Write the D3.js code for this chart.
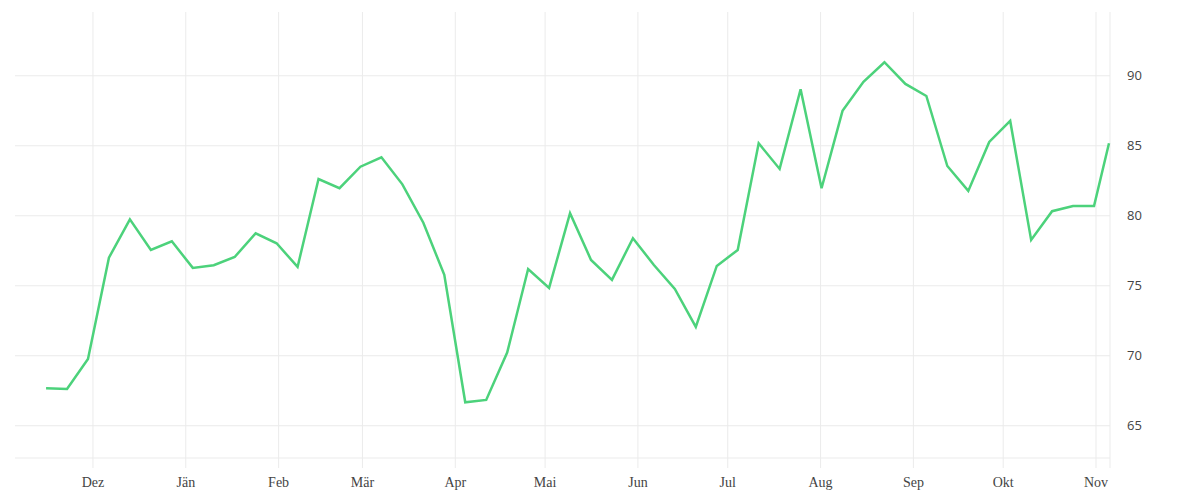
<!DOCTYPE html>
<html>
<head>
<meta charset="utf-8">
<script src="https://cdn.jsdelivr.net/npm/d3@7"></script>
<style>
  body { margin: 0; background: #fff; }
  svg { display: block; }
</style>
</head>
<body>
<div id="chart"></div>
<script>
// wöchentliche Werte, Nov 2021 - Nov 2022
const dates = [
  "2021-11-15", "2021-11-22", "2021-11-29", "2021-12-06", "2021-12-13", "2021-12-20", "2021-12-27",
  "2022-01-03", "2022-01-10", "2022-01-17", "2022-01-24", "2022-01-31",
  "2022-02-07", "2022-02-14", "2022-02-21", "2022-02-28",
  "2022-03-07", "2022-03-14", "2022-03-21", "2022-03-28",
  "2022-04-04", "2022-04-11", "2022-04-18", "2022-04-25",
  "2022-05-02", "2022-05-09", "2022-05-16", "2022-05-23", "2022-05-30",
  "2022-06-06", "2022-06-13", "2022-06-20", "2022-06-27",
  "2022-07-04", "2022-07-11", "2022-07-18", "2022-07-25",
  "2022-08-01", "2022-08-08", "2022-08-15", "2022-08-22", "2022-08-29",
  "2022-09-05", "2022-09-12", "2022-09-19", "2022-09-26",
  "2022-10-03", "2022-10-10", "2022-10-17", "2022-10-24", "2022-10-31",
  "2022-11-05"
];

const values = [
  67.64, 67.59, 69.74, 76.97, 79.71, 77.52, 78.14,
  76.24, 76.43, 77.02, 78.71, 78.0,
  76.31, 82.59, 81.93, 83.47,
  84.14, 82.21, 79.47, 75.74,
  66.64, 66.81, 70.19, 76.16,
  74.81, 80.15, 76.81, 75.38, 78.36,
  76.45, 74.74, 72.02, 76.38,
  77.52, 85.14, 83.31, 89.0,
  81.93, 87.46, 89.54, 90.93, 89.38,
  88.52, 83.52, 81.74, 85.24,
  86.74, 78.24, 80.29, 80.66, 80.66,
  85.14
];

const yTicks = [65, 70, 75, 80, 85, 90];
const monthNames = ["Jän", "Feb", "Mär", "Apr", "Mai", "Jun", "Jul", "Aug", "Sep", "Okt", "Nov", "Dez"];

const width = 1200, height = 500;
const plotLeft = 15, plotRight = 1110, plotTop = 12, plotBottom = 458;

const parse = d3.timeParse("%Y-%m-%dT%H:%M");
const data = dates.map((d, i) => ({ date: parse(d + "T12:00"), value: values[i] }));

const x = d3.scaleTime()
    .domain([parse("2021-11-05T03:00"), parse("2022-11-05T20:00")])
    .range([plotLeft, plotRight]);

const y = d3.scaleLinear()
    .domain([62.66, 94.52])
    .range([plotBottom, plotTop]);

const svg = d3.select("#chart")
    .append("svg")
    .attr("width", width)
    .attr("height", height);

const gridColor = "#ebebeb";

// horizontale Gitterlinien
svg.append("g")
    .attr("transform", `translate(${plotLeft},0)`)
    .call(d3.axisLeft(y).tickValues(yTicks).tickSize(-(plotRight - plotLeft)).tickFormat(""))
    .call(g => g.select(".domain").remove())
    .call(g => g.selectAll(".tick line").attr("stroke", gridColor));

// untere Linie
svg.append("line")
    .attr("x1", plotLeft).attr("x2", plotRight)
    .attr("y1", plotBottom).attr("y2", plotBottom)
    .attr("stroke", gridColor);

// Monate
const months = d3.timeMonth.range(parse("2021-12-01T00:00"), parse("2022-11-02T00:00"));

const xAxis = svg.append("g")
    .attr("transform", `translate(0,${plotBottom + 10})`)
    .call(d3.axisBottom(x)
        .tickValues(months)
        .tickSize(-(plotBottom + 10 - plotTop))
        .tickPadding(9)
        .tickFormat(d => monthNames[d.getMonth()]));

xAxis.select(".domain").remove();
xAxis.selectAll(".tick line").attr("stroke", gridColor);
xAxis.selectAll(".tick text")
    .attr("fill", "#444")
    .style("font-family", "'Liberation Serif', serif")
    .style("font-size", "14px");

// rechte Randlinie
svg.append("line")
    .attr("x1", plotRight).attr("x2", plotRight)
    .attr("y1", plotTop).attr("y2", plotBottom + 10)
    .attr("stroke", gridColor);

// y-Achse rechts
const yAxis = svg.append("g")
    .attr("transform", `translate(${plotRight},0)`)
    .call(d3.axisRight(y).tickValues(yTicks).tickSize(0).tickPadding(17));

yAxis.select(".domain").remove();
yAxis.selectAll(".tick text")
    .attr("fill", "#444")
    .style("font-family", "'Open Sans', sans-serif")
    .style("font-size", "13px");

const line = d3.line()
    .x(d => x(d.date))
    .y(d => y(d.value));

svg.append("path")
    .datum(data)
    .attr("fill", "none")
    .attr("stroke", "#4cd27b")
    .attr("stroke-width", 2.5)
    .attr("stroke-linejoin", "miter")
    .attr("d", line);
</script>
</body>
</html>
